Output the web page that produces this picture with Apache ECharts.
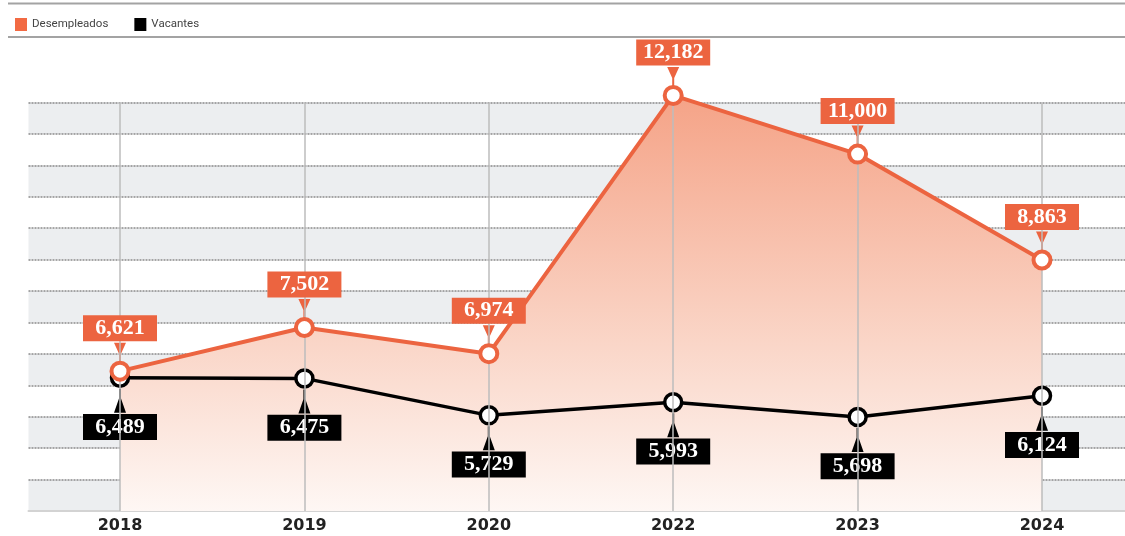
<!DOCTYPE html>
<html>
<head>
<meta charset="utf-8">
<script src="https://cdn.jsdelivr.net/npm/echarts@6/dist/echarts.min.js"></script>
<style>html,body{margin:0;padding:0;background:#fff;}#c{width:1125px;height:536px;}</style>
</head>
<body>
<div id="c"></div>
<script>
const years = ['2018', '2019', '2020', '2022', '2023', '2024'];
const desempleados = [6621, 7502, 6974, 12182, 11000, 8863];
const vacantes = [6489, 6475, 5729, 5993, 5698, 6124];
const seriesNames = ['Desempleados', 'Vacantes'];

const ORANGE = '#ec6440';
const fmt = v => String(v).replace(/\B(?=(\d{3})+(?!\d))/g, ',');
const labelFont = { fontFamily: 'Liberation Serif', fontWeight: 'bold', fontSize: 22, lineHeight: 22, color: '#fff', padding: [2, 7, 2, 7], width: 60, align: 'center' };

const chart = echarts.init(document.getElementById('c'));
chart.setOption({
  animation: false,
  graphic: [
    { type: 'line', shape: { x1: 8, y1: 3.5, x2: 1125, y2: 3.5 }, style: { stroke: '#a3a3a3', lineWidth: 2 } },
    { type: 'line', shape: { x1: 8, y1: 37, x2: 1125, y2: 37 }, style: { stroke: '#a3a3a3', lineWidth: 2 } }
  ],
  legend: {
    left: 10, top: 13, icon: 'rect', itemWidth: 12, itemHeight: 13, itemGap: 26,
    textStyle: { fontFamily: 'Roboto', fontSize: 11.5, color: '#444' },
    data: [
      { name: seriesNames[0], itemStyle: { color: '#f26a43', borderWidth: 0 } },
      { name: seriesNames[1], itemStyle: { color: '#000', borderWidth: 0 } }
    ]
  },
  grid: [
    { left: 28.5, right: 0, top: 102.5, bottom: 25 },
    { left: 120, right: 83, top: 102.5, bottom: 25 }
  ],
  xAxis: [
    {
      gridIndex: 1, type: 'category', data: years, boundaryGap: false,
      axisLine: { show: false },
      axisTick: { show: false },
      axisLabel: { fontFamily: 'DejaVu Sans', fontWeight: 'bold', fontSize: 16, color: '#222', margin: 7 },
      splitLine: { show: false }
    },
    {
      gridIndex: 0, type: 'value', min: 0, max: 1,
      axisLine: { show: true, onZero: false, lineStyle: { color: '#d3d3d3', width: 2 } },
      axisTick: { show: false }, axisLabel: { show: false }, splitLine: { show: false }
    }
  ],
  yAxis: [
    { gridIndex: 1, type: 'value', min: 3800, max: 12040, show: false, splitLine: { show: false } },
    {
      gridIndex: 0, type: 'value', min: 0, max: 13, interval: 1,
      axisLabel: { show: false }, axisLine: { show: false }, axisTick: { show: false },
      splitLine: { show: true, showMinLine: false, lineStyle: { type: [2, 1], color: '#8a8a8a', width: 1.5 } },
      splitArea: { show: true, areaStyle: { color: ['#eceef0', '#ffffff'] } }
    }
  ],
  series: [
    {
      name: seriesNames[0], type: 'line', data: desempleados, xAxisIndex: 0, yAxisIndex: 0, z: 1,
      symbol: 'none', silent: true, clip: false,
      lineStyle: { width: 0 },
      areaStyle: {
        opacity: 1,
        color: new echarts.graphic.LinearGradient(0, 0, 0, 1, [
          { offset: 0, color: 'rgb(245,163,135)' },
          { offset: 0.6, color: 'rgb(250,214,200)' },
          { offset: 1, color: 'rgb(254,247,244)' }
        ])
      },
      markLine: {
        silent: true, symbol: ['none', 'none'], label: { show: false },
        lineStyle: { color: '#bcbcbc', width: 1.5, type: 'solid' },
        data: years.map(y => ({ xAxis: y }))
      }
    },
    {
      name: 'ptrV', type: 'scatter', data: vacantes, xAxisIndex: 0, yAxisIndex: 0, z: 2, silent: true, clip: false,
      symbol: 'path://M5,0 L7,0 L7,9 L12,22 L0,22 L5,9 Z', symbolSize: [12, 24], symbolOffset: [0, 23],
      itemStyle: { color: '#000', opacity: 1 }
    },
    {
      name: seriesNames[1], type: 'line', data: vacantes, xAxisIndex: 0, yAxisIndex: 0, z: 3, clip: false,
      lineStyle: { color: '#000', width: 3.5 },
      symbol: 'circle', symbolSize: 17,
      itemStyle: { color: '#fff', borderColor: '#000', borderWidth: 3.5 },
      label: Object.assign({ show: true, position: 'bottom', distance: 26, backgroundColor: '#000', formatter: p => fmt(p.value) }, labelFont)
    },
    {
      name: 'ptrD', type: 'scatter', data: desempleados, xAxisIndex: 0, yAxisIndex: 0, z: 4, silent: true, clip: false,
      symbol: 'path://M0,0 L12,0 L7,11 L7,19 L5,19 L5,11 Z', symbolSize: [12, 19], symbolOffset: [0, -19],
      itemStyle: { color: ORANGE, opacity: 1 }
    },
    {
      name: seriesNames[0], type: 'line', data: desempleados, xAxisIndex: 0, yAxisIndex: 0, z: 5, clip: false,
      lineStyle: { color: ORANGE, width: 4 },
      symbol: 'circle', symbolSize: 17,
      itemStyle: { color: '#fff', borderColor: ORANGE, borderWidth: 4 },
      label: Object.assign({ show: true, position: 'top', distance: 19.5, backgroundColor: ORANGE, formatter: p => fmt(p.value) }, labelFont)
    }
  ]
});
</script>
</body>
</html>
